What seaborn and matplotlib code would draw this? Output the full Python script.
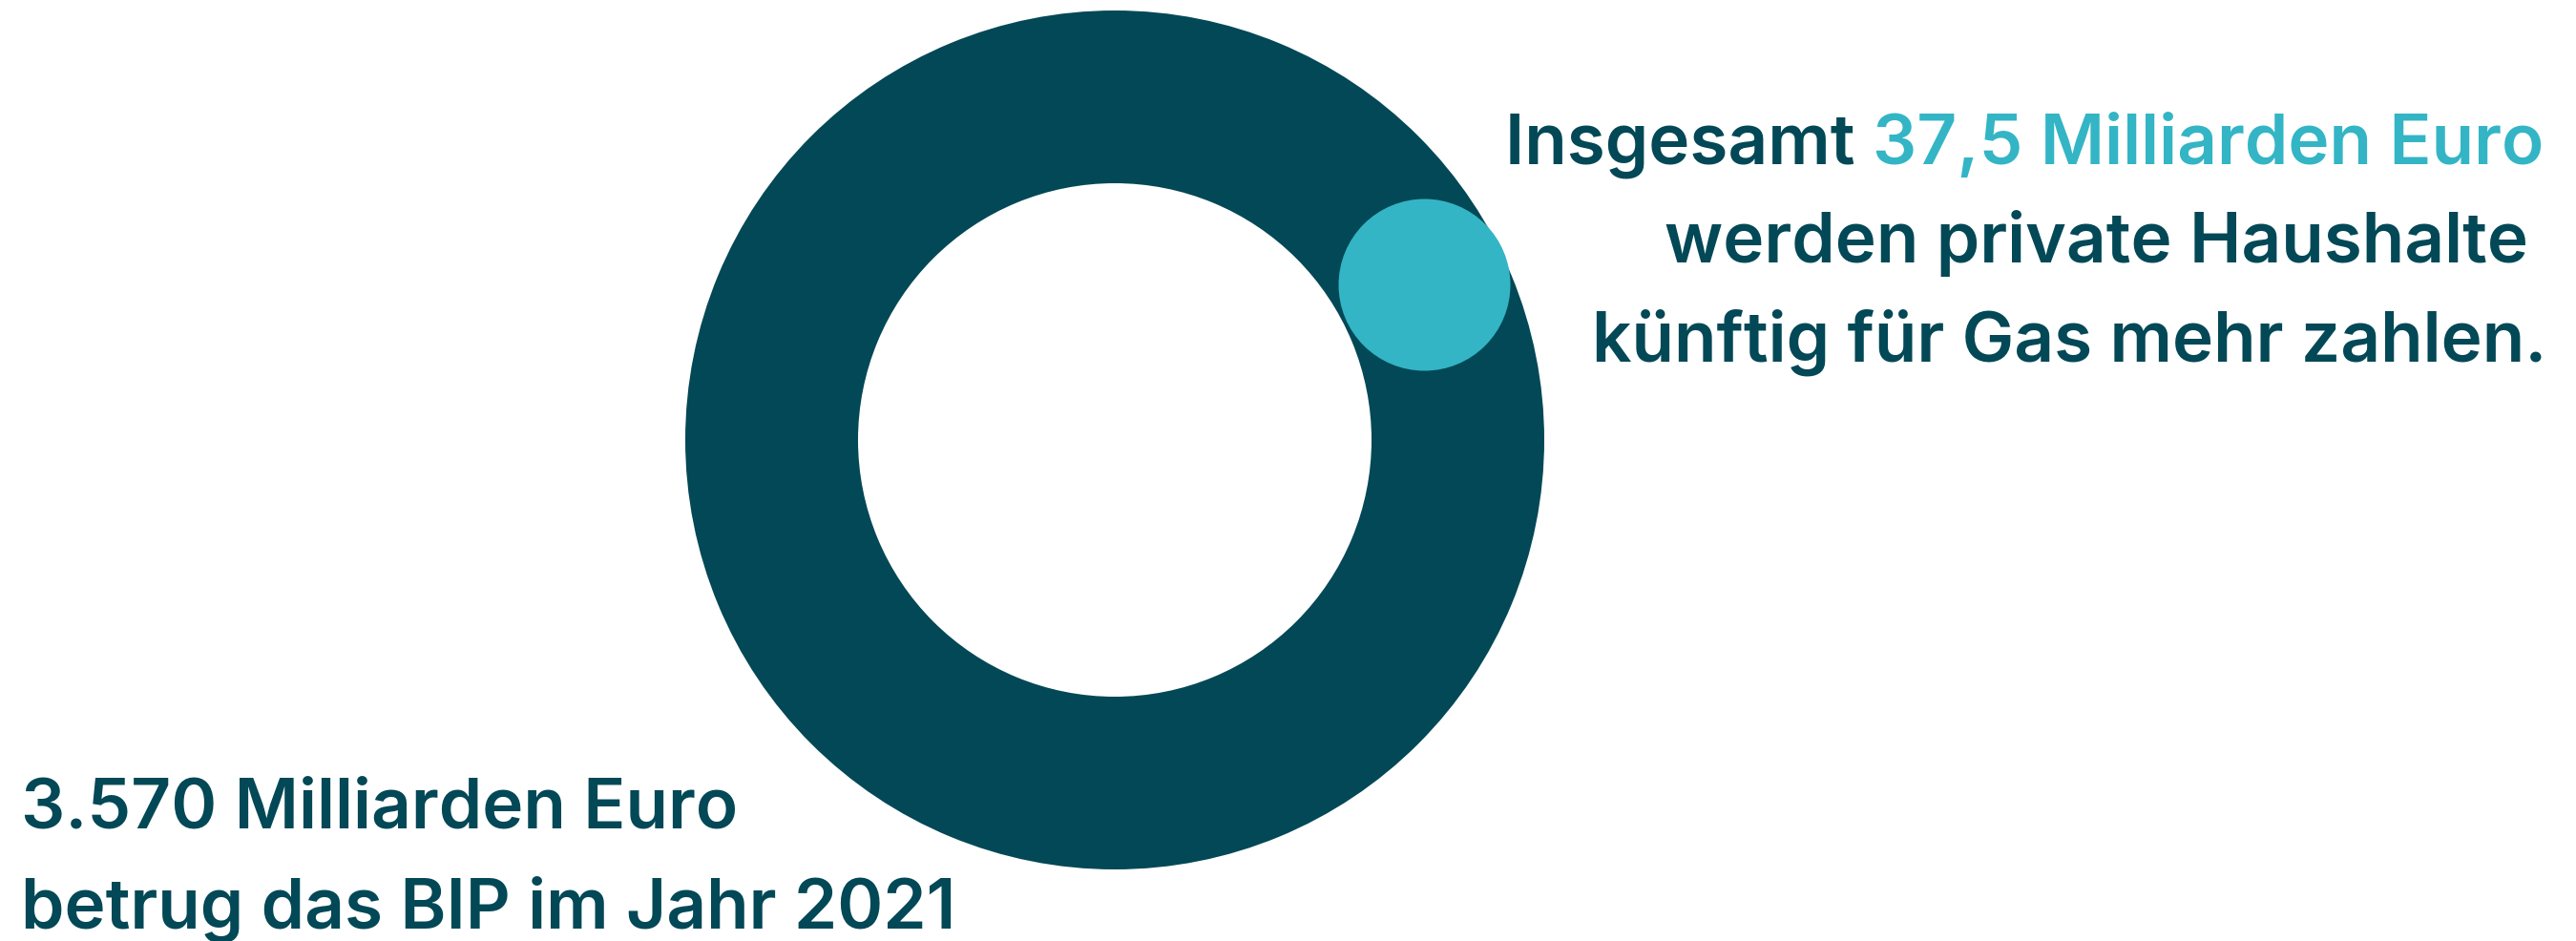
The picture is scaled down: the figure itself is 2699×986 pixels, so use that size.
import numpy as np
import matplotlib
matplotlib.use("Agg")
import matplotlib.pyplot as plt
import seaborn as sns

# ----------------------------------------------------------
# Data
# ----------------------------------------------------------
labels = ["BIP 2021", "Mehrkosten Gas"]
values_mrd = [3570, 37.5]
text_bip = ["3.570 Milliarden Euro", "betrug das BIP im Jahr 2021"]
text_gas_a = "Insgesamt "
text_gas_b = "37,5 Milliarden Euro"
text_gas_rest = ["werden private Haushalte", "künftig für Gas mehr zahlen."]

dark = "#034856"
light = "#33b5c5"

sns.set_theme(style="white")
plt.rcParams["font.family"] = ["Inter", "DejaVu Sans"]

W, H = 2699, 986
fig = plt.figure(figsize=(W / 100, H / 100), dpi=100)
ax = fig.add_axes([0, 0, 1, 1])

# ring = the whole GDP
cx, cy, r_out, r_in = 1168, 461, 450, 269
ax.pie([values_mrd[0]], radius=r_out, center=(cx, cy), colors=[dark],
       startangle=90, counterclock=False,
       wedgeprops=dict(width=r_out - r_in, linewidth=0))

# small dot on the ring = extra gas costs
ang = np.deg2rad(26.8)
r_mid = (r_out + r_in) / 2 + 3
ax.scatter([cx + r_mid * np.cos(ang)], [cy - r_mid * np.sin(ang)],
           s=(2 * 90 * 72 / 100) ** 2, color=light, linewidths=0, zorder=5)

ax.set_xlim(0, W)
ax.set_ylim(H, 0)
ax.set_aspect("equal")
ax.axis("off")

fs = 52.5
fw = "semibold"

# right text block
tb = ax.text(2665, 172, text_gas_b, color=light, fontsize=fs, fontweight=fw,
             ha="right", va="baseline")
ax.annotate(text_gas_a, xy=(0, 0), xycoords=tb, color=dark, fontsize=fs,
            fontweight=fw, ha="right", va="bottom")
ax.text(2649, 275, text_gas_rest[0], color=dark, fontsize=fs, fontweight=fw,
        ha="right", va="baseline")
ax.text(2668, 379, text_gas_rest[1], color=dark, fontsize=fs, fontweight=fw,
        ha="right", va="baseline")

# bottom-left text block
ax.text(22, 868, text_bip[0], color=dark, fontsize=fs, fontweight=fw,
        ha="left", va="baseline")
ax.text(22, 973, text_bip[1], color=dark, fontsize=fs, fontweight=fw,
        ha="left", va="baseline")

fig.savefig("out.png", dpi=100, facecolor="white")
